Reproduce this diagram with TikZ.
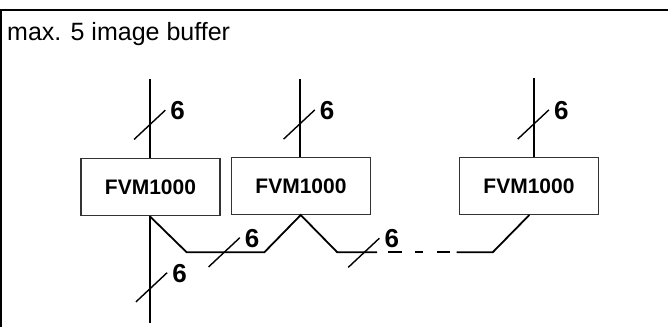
\documentclass[tikz,border=0pt]{standalone}
\usepackage{fontspec}
\setmainfont{Liberation Sans}
\begin{document}
\begin{tikzpicture}[x=1pt,y=-1pt,
  fvm/.style={draw=black!80,line width=1.3pt,inner sep=0pt,minimum width=139pt,minimum height=57pt,font=\fontsize{21}{21}\selectfont\bfseries},
  wire/.style={line width=1.8pt,black},
  slash/.style={line width=1.4pt,black},
  num/.style={inner sep=0pt,font=\fontsize{26}{26}\selectfont\bfseries},
  frame/.style={black}]
\useasboundingbox (0,0) rectangle (668,327);
\newcommand\busmark[1]{%
  \draw[slash,shift={(#1)}] (-15.6,14.6) -- (15.6,-14.6);
  \node[num,shift={(#1)}] at (28,-14) {6};}
% frame
\draw[frame,line width=2.6pt] (0,10) -- (668,10);
\draw[frame,line width=2pt] (1,9) -- (1,327);
\node[anchor=base west,inner sep=0pt,font=\fontsize{25}{25}\selectfont] (title) at (7,40) {max. 5 image buffer};
% boxes
\node[fvm] (b1) at (150.5,187.3) {FVM1000};
\node[fvm] (b2) at (301,186) {FVM1000};
\node[fvm] (b3) at (529,186) {FVM1000};
% vertical wires
\coordinate (t1) at (150,79);
\coordinate (t2) at (300,79);
\coordinate (t3) at (534.3,78);
\coordinate (e1) at (150,323);
\draw[wire] (t1) -- (t1 |- b1.north);
\draw[wire] (t2) -- (t2 |- b2.north);
\draw[wire] (t3) -- (t3 |- b3.north);
\draw[wire] (t1 |- b1.south) -- (e1);
% bus
\coordinate (p1) at (186.7,252.3);
\coordinate (p2) at (264.3,252.3);
\coordinate (q1) at (337.3,252.3);
\coordinate (q2) at (377,252.3);
\coordinate (r1) at (456.7,252.3);
\coordinate (r2) at (492.7,252.3);
\draw[wire,line join=miter] (t1 |- b1.south) -- (p1) -- (p2) -- (300.7,215) -- (q1) -- (q2);
\draw[wire] (388,252.3) -- (402,252.3);
\draw[wire] (415,252.3) -- (423,252.3);
\draw[wire] (437,252.3) -- (450,252.3);
\draw[wire,line join=miter] (r1) -- (r2) -- (529.3,215);
% bus width marks
\busmark{149.7,124.8}
\busmark{299.2,124.5}
\busmark{533.3,124.5}
\busmark{224.2,252.3}
\busmark{363.8,252.8}
\busmark{151.5,287.3}
\end{tikzpicture}
\end{document}
